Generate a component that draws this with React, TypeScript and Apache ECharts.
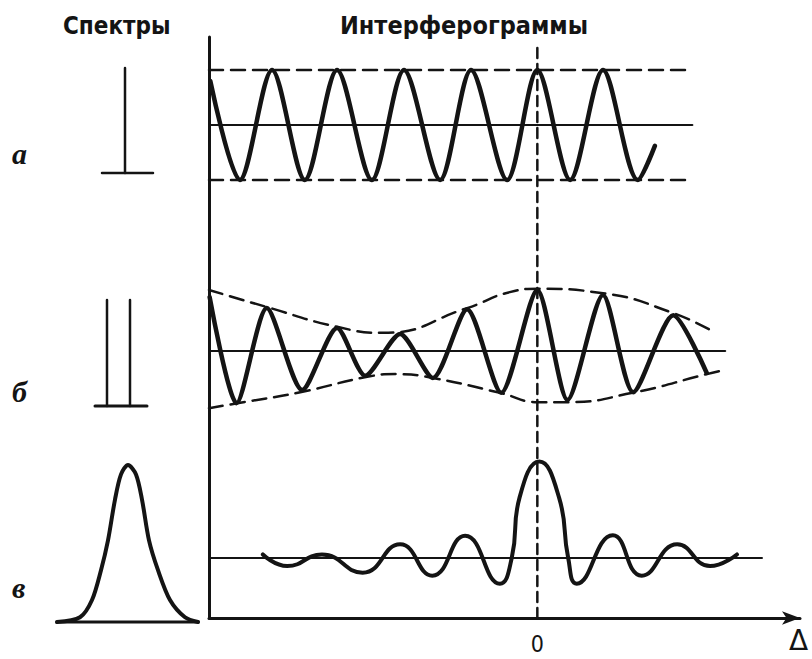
import React, { useEffect, useRef } from "react";
import * as echarts from "echarts";

// Interferogram x positions (Δ units) and amplitudes
const waveA: [number, number][] = [
  [-4.98, 0.8], [-4.53, -1], [-4.04, 1], [-3.54, -1], [-3.05, 1], [-2.52, -1], [-2.03, 1],
  [-1.48, -1], [-1.01, 1], [-0.46, -1], [0, 1], [0.5, -1], [1.0, 1], [1.53, -1], [1.79, -0.38],
];
const waveB: [number, number][] = [
  [-4.99, 0.98], [-4.58, -0.95], [-4.12, 0.78], [-3.58, -0.71], [-3.05, 0.42], [-2.62, -0.45],
  [-2.09, 0.31], [-1.59, -0.49], [-1.07, 0.76], [-0.55, -0.76], [0, 1.11], [0.46, -0.89],
  [1.0, 1.02], [1.46, -0.75], [2.07, 0.65], [2.58, -0.4],
];
const envTopB: [number, number][] = [
  [-5.0, 1.11], [-4.12, 0.8], [-3.05, 0.44], [-2.35, 0.33], [-1.07, 0.78], [-0.42, 1.07],
  [0.01, 1.13], [1.0, 1.05], [2.07, 0.69], [2.68, 0.35],
];
const envBotB: [number, number][] = [
  [-5.0, -1.04], [-4.57, -0.95], [-3.61, -0.75], [-2.59, -0.47], [-2.14, -0.42], [-1.59, -0.49],
  [-0.57, -0.76], [0.01, -0.93], [0.46, -0.93], [1.45, -0.76], [2.58, -0.42], [2.83, -0.35],
];
const waveC: [number, number][] = [
  [-4.18, 0.07], [-3.81, -0.16], [-3.28, 0.07], [-2.66, -0.29], [-2.09, 0.27], [-1.6, -0.35],
  [-1.1, 0.44], [-0.57, -0.51], [-0.39, 0], [-0.27, 1.2], [0.03, 1.91],
  [0.33, 1.2], [0.47, 0], [0.6, -0.51], [1.15, 0.45],
  [1.59, -0.35], [2.13, 0.27], [2.63, -0.16], [3.04, 0.07],
];
const levelA = { dashHi: 1, dashLo: -1, dashEnd: 2.28, centerEnd: 2.36 };
const centerEndB = 2.86;
const centerEndC = 3.42;
const zeroLineTop = 0.981;

// Spectra (frequency units, relative intensity)
const specA = [7.5];
const specABase: [number, number] = [5.2, 10.3];
const specB = [5.7, 8.0];
const specBBase: [number, number] = [4.5, 9.7];
const gauss: [number, number][] = [
  [0.7, 0], [3.0, 0.03], [4.2, 0.14], [5.1, 0.33], [5.8, 0.52], [6.5, 0.78], [7.1, 0.94],
  [7.8, 1.0], [8.6, 0.94], [9.2, 0.78], [9.9, 0.52], [10.8, 0.33], [12.0, 0.14], [13.5, 0.03],
  [14.8, 0],
];
const gaussBase: [number, number] = [0.7, 14.8];

const titles = ["Спектры", "Интерферограммы"];
const panelLabels = ["а", "б", "в"];

const INK = "#141414";

export default function App() {
  const ref = useRef<HTMLDivElement>(null);
  useEffect(() => {
    document.body.style.margin = "0";
    const chart = echarts.init(ref.current!, null, { renderer: "svg" });
    const hiddenX = (i: number) => ({ type: "value", gridIndex: i, min: -5, max: 4, show: false });
    const hiddenY = (i: number) => ({ type: "value", gridIndex: i, min: -2, max: 2, show: false });
    const line = (
      data: [number, number][],
      axis: number,
      width: number,
      opts: any = {}
    ) => ({
      type: "line",
      xAxisIndex: axis,
      yAxisIndex: axis,
      data,
      symbol: "none",
      silent: true,
      clip: false,
      smooth: opts.smooth ?? false,
      lineStyle: {
        color: INK,
        width,
        type: opts.dash ?? "solid",
        cap: "round",
        join: "round",
      },
    });
    const dashLong = [14, 8];
    const option: any = {
      animation: false,
      backgroundColor: "#ffffff",
      grid: [
        { left: 209, top: 37, width: 591, height: 581 },
        { left: 209, top: 15, width: 591, height: 220 },
        { left: 209, top: 241, width: 591, height: 220 },
        { left: 209, top: 457, width: 591, height: 220 },
        { left: 50, top: 68, width: 160, height: 105 },
        { left: 50, top: 300, width: 160, height: 106 },
        { left: 50, top: 465, width: 160, height: 157 },
      ],
      xAxis: [
        {
          type: "value",
          gridIndex: 0,
          min: -5,
          max: 4,
          interval: 1,
          splitLine: { show: false },
          axisTick: { show: false },
          axisLine: {
            show: true,
            onZero: false,
            symbol: ["none", "arrow"],
            symbolSize: [10, 18],
            lineStyle: { color: INK, width: 3 },
          },
          axisLabel: {
            show: true,
            margin: 14,
            color: INK,
            fontSize: 23,
            fontFamily: "DejaVu Sans Condensed",
            formatter: (v: number) => (v === 0 ? "0" : ""),
          },
        },
        hiddenX(1),
        hiddenX(2),
        hiddenX(3),
        { type: "value", gridIndex: 4, min: 0, max: 16, show: false },
        { type: "value", gridIndex: 5, min: 0, max: 16, show: false },
        { type: "value", gridIndex: 6, min: 0, max: 16, show: false },
      ],
      yAxis: [
        {
          type: "value",
          gridIndex: 0,
          min: 0,
          max: 1,
          splitLine: { show: false },
          axisTick: { show: false },
          axisLabel: { show: false },
          axisLine: { show: true, onZero: false, lineStyle: { color: INK, width: 3 } },
        },
        hiddenY(1),
        hiddenY(2),
        hiddenY(3),
        { type: "value", gridIndex: 4, min: 0, max: 1, show: false },
        { type: "value", gridIndex: 5, min: 0, max: 1, show: false },
        { type: "value", gridIndex: 6, min: 0, max: 1, show: false },
      ],
      series: [
        line([[0, 0], [0, zeroLineTop]], 0, 2.5, { dash: [10, 6] }),
        // panel а
        line([[-5, levelA.dashHi], [levelA.dashEnd, levelA.dashHi]], 1, 2.5, { dash: dashLong }),
        line([[-5, levelA.dashLo], [levelA.dashEnd, levelA.dashLo]], 1, 2.5, { dash: dashLong }),
        line([[-5, 0], [levelA.centerEnd, 0]], 1, 2.2),
        line(waveA, 1, 4.5, { smooth: 0.3 }),
        // panel б
        line(envTopB, 2, 2.5, { dash: dashLong, smooth: 0.5 }),
        line(envBotB, 2, 2.5, { dash: dashLong, smooth: 0.5 }),
        line([[-5, 0], [centerEndB, 0]], 2, 2.2),
        line(waveB, 2, 4.5, { smooth: 0.25 }),
        // panel в
        line([[-5, 0], [centerEndC, 0]], 3, 2.2),
        line(waveC, 3, 4, { smooth: 0.5 }),
        // spectra
        ...specA.map((f) => line([[f, 0], [f, 1]], 4, 2.5)),
        line([[specABase[0], 0], [specABase[1], 0]], 4, 2.5),
        ...specB.map((f) => line([[f, 0], [f, 1]], 5, 2.5)),
        line([[specBBase[0], 0], [specBBase[1], 0]], 5, 3),
        line(gauss, 6, 4, { smooth: 0.3 }),
        line([[gaussBase[0], 0], [gaussBase[1], 0]], 6, 3),
      ],
      graphic: [
        {
          type: "text",
          x: 63,
          y: 14,
          style: {
            text: titles[0],
            fontSize: 24,
            fontWeight: "bold",
            fontFamily: "DejaVu Sans Condensed",
            fill: INK,
          },
        },
        {
          type: "text",
          x: 340,
          y: 13,
          style: {
            text: titles[1],
            fontSize: 25,
            fontWeight: "bold",
            fontFamily: "DejaVu Sans Condensed",
            fill: INK,
          },
        },
        ...panelLabels.map((t, i) => ({
          type: "text",
          x: 12,
          y: [138, 376, 572][i],
          style: {
            text: t,
            fontSize: 30,
            fontStyle: "italic",
            fontWeight: "bold",
            fontFamily: "Liberation Serif",
            fill: INK,
          },
        })),
        {
          type: "text",
          x: 789,
          y: 626,
          style: { text: "Δ", fontSize: 28, fontFamily: "DejaVu Sans", fill: INK },
        },
      ],
    };
    chart.setOption(option);
    return () => chart.dispose();
  }, []);
  return <div ref={ref} style={{ width: 812, height: 659 }} />;
}
